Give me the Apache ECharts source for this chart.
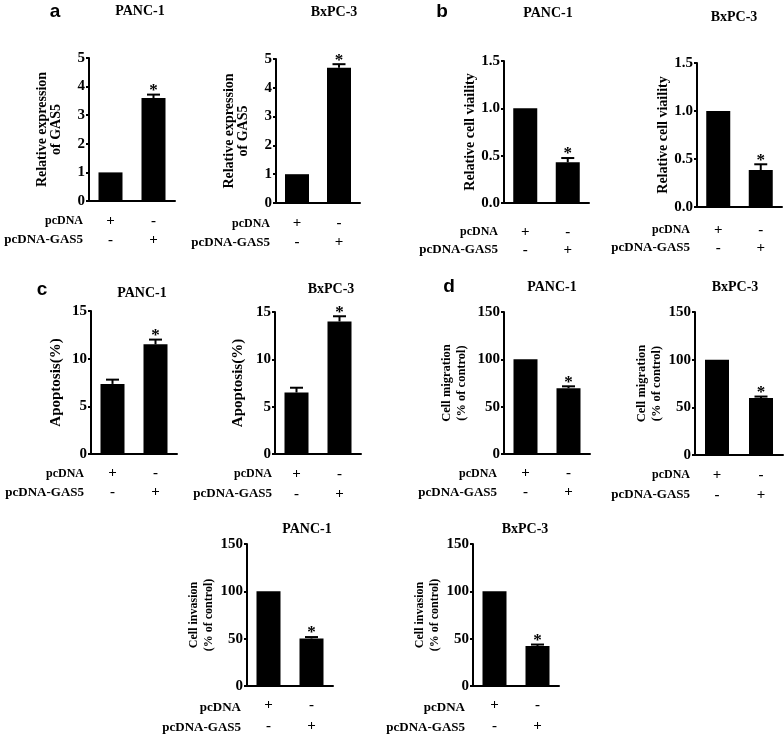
<!DOCTYPE html>
<html>
<head>
<meta charset="utf-8">
<script src="https://cdn.jsdelivr.net/npm/echarts@6/dist/echarts.min.js"></script>
<style>
html,body{margin:0;padding:0;background:#fff;}
#chart{width:784px;height:736px;}
</style>
</head>
<body>
<div id="chart"></div>
<script>
// ---------- data ----------
const cellLines = ['PANC-1', 'BxPC-3'];
const groups = ['pcDNA', 'pcDNA-GAS5'];
const pcDNAMarks = ['+', '-'];
const gas5Marks = ['-', '+'];
const sigMarks = ['', '*'];
const panelLetters = ['a', 'b', 'c', 'd'];

const exprPANC1 = [1.0, 3.6];     const exprPANC1Err = [0, 0.12];
const exprBxPC3 = [1.0, 4.7];     const exprBxPC3Err = [0, 0.12];
const viabPANC1 = [1.0, 0.43];    const viabPANC1Err = [0, 0.045];
const viabBxPC3 = [1.0, 0.385];   const viabBxPC3Err = [0, 0.06];
const apopPANC1 = [7.35, 11.5];   const apopPANC1Err = [0.45, 0.5];
const apopBxPC3 = [6.5, 14.0];    const apopBxPC3Err = [0.5, 0.55];
const migrPANC1 = [100, 69.5];    const migrPANC1Err = [0, 2];
const migrBxPC3 = [100, 59.8];    const migrBxPC3Err = [0, 1.5];
const invPANC1 = [100, 50.2];     const invPANC1Err = [0, 1.5];
const invBxPC3 = [100, 42.3];     const invBxPC3Err = [0, 1.5];

const exprAxis = [0, 5, 1];
const viabAxis = [0, 1.5, 0.5];
const apopAxis = [0, 15, 5];
const pctAxis = [0, 150, 50];

const exprName = 'Relative expression\nof GAS5';
const viabName = 'Relative cell viaility';
const apopName = 'Apoptosis(%)';
const migrName = 'Cell migration\n(% of control)';
const invName = 'Cell invasion\n(% of control)';

// ---------- layout ----------
const SERIF = "'Liberation Serif','Times New Roman',serif";
const SANS = "'Liberation Sans',Arial,sans-serif";
const panels = [
  {cell:0, vals:exprPANC1, errs:exprPANC1Err, ax:exprAxis, dec:0, name:exprName,
   L:89, T:58, W:86, H:143, gap:26, nfs:14, nlh:14, lm:11, llh:18.5, R:83, pfs:12, title:[140,11]},
  {cell:1, vals:exprBxPC3, errs:exprBxPC3Err, ax:exprAxis, dec:0, name:exprName,
   L:276, T:59, W:84, H:144, gap:26, nfs:14, nlh:14, lm:11, llh:19, R:270, pfs:12, title:[334,12]},
  {cell:0, vals:viabPANC1, errs:viabPANC1Err, ax:viabAxis, dec:1, name:viabName,
   L:504, T:61, W:85, H:142, gap:26, nfs:14, nlh:14, lm:20, llh:18, R:498, pfs:12, title:[548,13]},
  {cell:1, vals:viabBxPC3, errs:viabBxPC3Err, ax:viabAxis, dec:1, name:viabName,
   L:697, T:63, W:85, H:144, gap:26, nfs:14, nlh:14, lm:14, llh:18, R:690, pfs:12, title:[734,17]},
  {cell:0, vals:apopPANC1, errs:apopPANC1Err, ax:apopAxis, dec:0, name:apopName,
   L:91, T:311, W:86, H:143, gap:27, nfs:15, nlh:15, lm:10, llh:19, R:84, pfs:12, title:[142,293]},
  {cell:1, vals:apopBxPC3, errs:apopBxPC3Err, ax:apopAxis, dec:0, name:apopName,
   L:275, T:312, W:86, H:142, gap:29, nfs:15, nlh:15, lm:10, llh:20, R:272, pfs:12, title:[331,289]},
  {cell:0, vals:migrPANC1, errs:migrPANC1Err, ax:pctAxis, dec:0, name:migrName,
   L:504, T:312, W:86, H:142, gap:35, nfs:12.5, nlh:15, lm:10, llh:19, R:497, pfs:12, title:[552,287]},
  {cell:1, vals:migrBxPC3, errs:migrBxPC3Err, ax:pctAxis, dec:0, name:migrName,
   L:695, T:312, W:88, H:143, gap:28, nfs:12.5, nlh:15, lm:10, llh:20, R:690, pfs:12, title:[735,287]},
  {cell:0, vals:invPANC1, errs:invPANC1Err, ax:pctAxis, dec:0, name:invName,
   L:247, T:544, W:86, H:144, gap:27, nfs:12, nlh:15, lm:9, llh:20.5, R:241, pfs:13, title:[307,529]},
  {cell:1, vals:invBxPC3, errs:invBxPC3Err, ax:pctAxis, dec:0, name:invName,
   L:473, T:544, W:86, H:144, gap:31, nfs:12, nlh:15, lm:9, llh:20.5, R:465, pfs:13, title:[525,529]}
];
const letterPos = [[55,12],[442,12],[42,290],[449,287]];

const grids = [], xAxes = [], yAxes = [], series = [], graphics = [];

panels.forEach((p, i) => {
  grids.push({left:p.L, top:p.T, width:p.W, height:p.H, containLabel:false});
  xAxes.push({
    type:'category', gridIndex:i, data:groups,
    axisLine:{lineStyle:{color:'#000', width:2}},
    axisTick:{alignWithLabel:true, length:5, lineStyle:{color:'#000', width:2}},
    axisLabel:{
      interval:0, margin:p.lm, lineHeight:p.llh,
      fontFamily:SERIF, fontWeight:'bold', fontSize:15, color:'#000',
      formatter:(v, idx) => pcDNAMarks[idx] + '\n' + gas5Marks[idx]
    }
  });
  yAxes.push({
    type:'value', gridIndex:i, min:p.ax[0], max:p.ax[1], interval:p.ax[2],
    name:p.name, nameLocation:'middle', nameGap:p.gap,
    nameTextStyle:{fontFamily:SERIF, fontWeight:'bold', fontSize:p.nfs, lineHeight:p.nlh, color:'#000'},
    axisLine:{show:true, lineStyle:{color:'#000', width:2}},
    axisTick:{show:true, length:3, lineStyle:{color:'#000', width:2}},
    axisLabel:{margin:4, fontFamily:SERIF, fontWeight:'bold', fontSize:15, color:'#000',
      formatter:v => v.toFixed(p.dec)},
    splitLine:{show:false}
  });
  series.push({
    type:'bar', xAxisIndex:i, yAxisIndex:i, data:p.vals, barWidth:24,
    itemStyle:{color:'#000'}, silent:true, animation:false
  });
  series.push({
    type:'custom', xAxisIndex:i, yAxisIndex:i, animation:false, silent:true, z:3,
    data:p.vals.map((m, k) => [k, m, p.errs[k]]),
    encode:{x:0, y:1},
    renderItem:(params, api) => {
      const k = api.value(0), m = api.value(1), e = api.value(2);
      const base = api.coord([k, m]);
      const top = api.coord([k, m + e]);
      const ch = [];
      if (e > 0) {
        ch.push({type:'line', shape:{x1:base[0], y1:base[1], x2:top[0], y2:top[1]}, style:{stroke:'#000', lineWidth:2}});
        ch.push({type:'line', shape:{x1:top[0]-6.5, y1:top[1], x2:top[0]+6.5, y2:top[1]}, style:{stroke:'#000', lineWidth:2}});
      }
      const s = sigMarks[params.dataIndex];
      if (s) {
        ch.push({type:'text', x:top[0], y:top[1]-4, style:{text:s, fill:'#000',
          font:'bold 17px ' + SERIF, align:'center', verticalAlign:'middle'}});
      }
      return {type:'group', children:ch};
    }
  });
  // cell-line title
  graphics.push({type:'text', x:p.title[0], y:p.title[1], silent:true,
    style:{text:cellLines[p.cell], fill:'#000', font:'bold 14px ' + SERIF, align:'center', verticalAlign:'middle'}});
  // row labels
  const zeroY = p.T + p.H;
  const y1 = zeroY + p.lm + p.llh / 2;
  const y2 = y1 + p.llh;
  graphics.push({type:'text', x:p.R, y:y1, silent:true,
    style:{text:groups[0], fill:'#000', font:'bold ' + p.pfs + 'px ' + SERIF, align:'right', verticalAlign:'middle'}});
  graphics.push({type:'text', x:p.R, y:y2, silent:true,
    style:{text:groups[1], fill:'#000', font:'bold 13px ' + SERIF, align:'right', verticalAlign:'middle'}});
});

panelLetters.forEach((l, i) => {
  graphics.push({type:'text', x:letterPos[i][0], y:letterPos[i][1], silent:true,
    style:{text:l, fill:'#000', font:'bold 19px ' + SANS, align:'center', verticalAlign:'middle'}});
});

const chart = echarts.init(document.getElementById('chart'), null, {renderer:'canvas'});
chart.setOption({
  animation:false,
  backgroundColor:'#fff',
  grid:grids, xAxis:xAxes, yAxis:yAxes, series:series, graphic:graphics
});
</script>
</body>
</html>
